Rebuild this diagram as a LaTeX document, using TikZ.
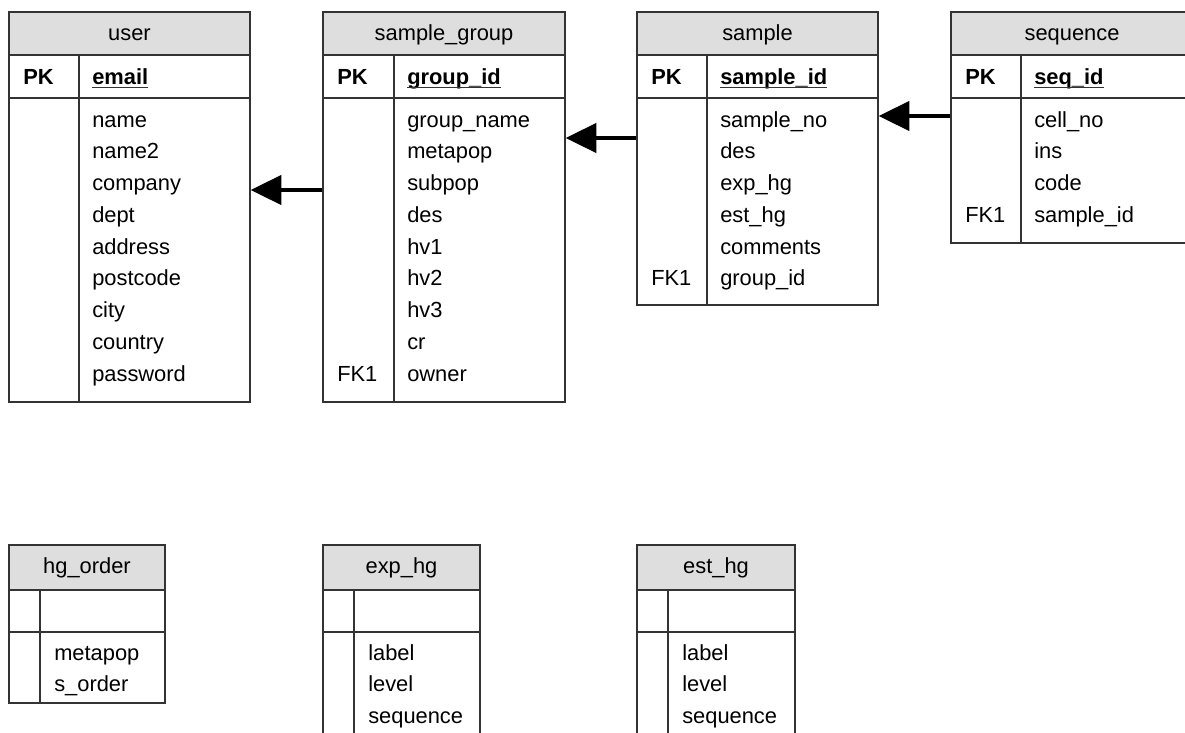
\documentclass[tikz,border=0pt]{standalone}
\usepackage{fontspec}
\setmainfont{Liberation Sans}
\usetikzlibrary{arrows.meta,fit}
\definecolor{headgray}{HTML}{DEDEDE}
\definecolor{linegray}{HTML}{333333}

\tikzset{
  tbl/.style={draw=linegray, line width=1pt, inner sep=0pt},
  tblhead/.style={tbl, fill=headgray},
  fld/.style={anchor=base west, inner sep=0pt, font=\fontsize{16.4}{19}\selectfont},
  keyfld/.style={fld, font=\fontsize{16.4}{19}\selectfont\bfseries},
  tbltitle/.style={fld, anchor=base},
  keyline/.style={draw=linegray, line width=1.1pt},
  rel/.style={-{Triangle[length=23pt,width=22pt]}, line width=2.4pt},
}

\begin{document}
\begin{tikzpicture}[x=0.75pt, y=-0.75pt]
 \useasboundingbox (0,0) rectangle (1185,732);
 \clip (0,0) rectangle (1185,732);

 % user
 \node[tblhead, fit={(9,12) (250,55)}] (user-head) {};
 \node[tbl, fit={(9,55) (250,98)}] (user-key) {};
 \node[tbl, fit={(9,98) (250,402)}] (user) {};
 \draw[tbl] (79,55) -- (79,402);
 \node[tbltitle] (user-title) at (129.5,40) {user};
 \node[keyfld] (user-pklbl) at (23,84) {PK};
 \node[keyfld] (user-pk) at (92,84) {email};
 \foreach \f [count=\i from 0] in {name,name2,company,dept,address,postcode,city,country,password}
  \node[fld] (user-\i) at (92,127+31.75*\i) {\f};

 % sample_group
 \node[tblhead, fit={(323,12) (565,55)}] (sgroup-head) {};
 \node[tbl, fit={(323,55) (565,98)}] (sgroup-key) {};
 \node[tbl, fit={(323,98) (565,402)}] (sgroup) {};
 \draw[tbl] (394,55) -- (394,402);
 \node[tbltitle] (sgroup-title) at (444,40) {sample\_group};
 \node[keyfld] (sgroup-pklbl) at (337,84) {PK};
 \node[keyfld] (sgroup-pk) at (407,84) {group\_id};
 \foreach \f [count=\i from 0] in {group\_name,metapop,subpop,des,hv1,hv2,hv3,cr,owner}
  \node[fld] (sgroup-\i) at (407,127+31.75*\i) {\f};
 \node[fld] (sgroup-fk) at (337,127+31.75*8) {FK1};

 % sample
 \node[tblhead, fit={(637,12) (878,55)}] (sample-head) {};
 \node[tbl, fit={(637,55) (878,98)}] (sample-key) {};
 \node[tbl, fit={(637,98) (878,305)}] (sample) {};
 \draw[tbl] (707,55) -- (707,305);
 \node[tbltitle] (sample-title) at (757.5,40) {sample};
 \node[keyfld] (sample-pklbl) at (651,84) {PK};
 \node[keyfld] (sample-pk) at (720,84) {sample\_id};
 \foreach \f [count=\i from 0] in {sample\_no,des,exp\_hg,est\_hg,comments,group\_id}
  \node[fld] (sample-\i) at (720,127+31.75*\i) {\f};
 \node[fld] (sample-fk) at (651,127+31.75*5) {FK1};

 % sequence
 \node[tblhead, fit={(951,12) (1193,55)}] (seq-head) {};
 \node[tbl, fit={(951,55) (1193,98)}] (seq-key) {};
 \node[tbl, fit={(951,98) (1193,243)}] (seq) {};
 \draw[tbl] (1021,55) -- (1021,243);
 \node[tbltitle] (seq-title) at (1072,40) {sequence};
 \node[keyfld] (seq-pklbl) at (965,84) {PK};
 \node[keyfld] (seq-pk) at (1034,84) {seq\_id};
 \foreach \f [count=\i from 0] in {cell\_no,ins,code,sample\_id}
  \node[fld] (seq-\i) at (1034,127+31.75*\i) {\f};
 \node[fld] (seq-fk) at (965,127+31.75*3) {FK1};

 % underlined keys
 \foreach \n in {user,sgroup,sample,seq}
  \draw[keyline] ([yshift=-2.6pt]\n-pk.base west) -- ([yshift=-2.6pt]\n-pk.base east);

 % foreign keys
 \draw[rel] (sgroup.west |- 0,190) -- (user.east |- 0,190);
 \draw[rel] (sample.west |- 0,138) -- (sgroup.east |- 0,138);
 \draw[rel] (seq.west |- 0,116) -- (sample.east |- 0,116);

 % hg_order
 \node[tblhead, fit={(9,545) (165,590)}] (hgo-head) {};
 \node[tbl, fit={(9,590) (165,632)}] (hgo-key) {};
 \node[tbl, fit={(9,632) (165,703)}] (hgo) {};
 \draw[tbl] (40,590) -- (40,703);
 \node[tbltitle] (hgo-title) at (87,573) {hg\_order};
 \foreach \f [count=\i from 0] in {metapop,s\_order}
  \node[fld] (hgo-\i) at (54,660+31.75*\i) {\f};

 % exp_hg
 \node[tblhead, fit={(323,545) (480,590)}] (exp-head) {};
 \node[tbl, fit={(323,590) (480,632)}] (exp-key) {};
 \node[tbl, fit={(323,632) (480,750)}] (exp) {};
 \draw[tbl] (354,590) -- (354,750);
 \node[tbltitle] (exp-title) at (401.5,573) {exp\_hg};
 \foreach \f [count=\i from 0] in {label,level,sequence}
  \node[fld] (exp-\i) at (368,660+31.75*\i) {\f};

 % est_hg
 \node[tblhead, fit={(637,545) (795,590)}] (est-head) {};
 \node[tbl, fit={(637,590) (795,632)}] (est-key) {};
 \node[tbl, fit={(637,632) (795,750)}] (est) {};
 \draw[tbl] (668,590) -- (668,750);
 \node[tbltitle] (est-title) at (716,573) {est\_hg};
 \foreach \f [count=\i from 0] in {label,level,sequence}
  \node[fld] (est-\i) at (682,660+31.75*\i) {\f};
\end{tikzpicture}
\end{document}
